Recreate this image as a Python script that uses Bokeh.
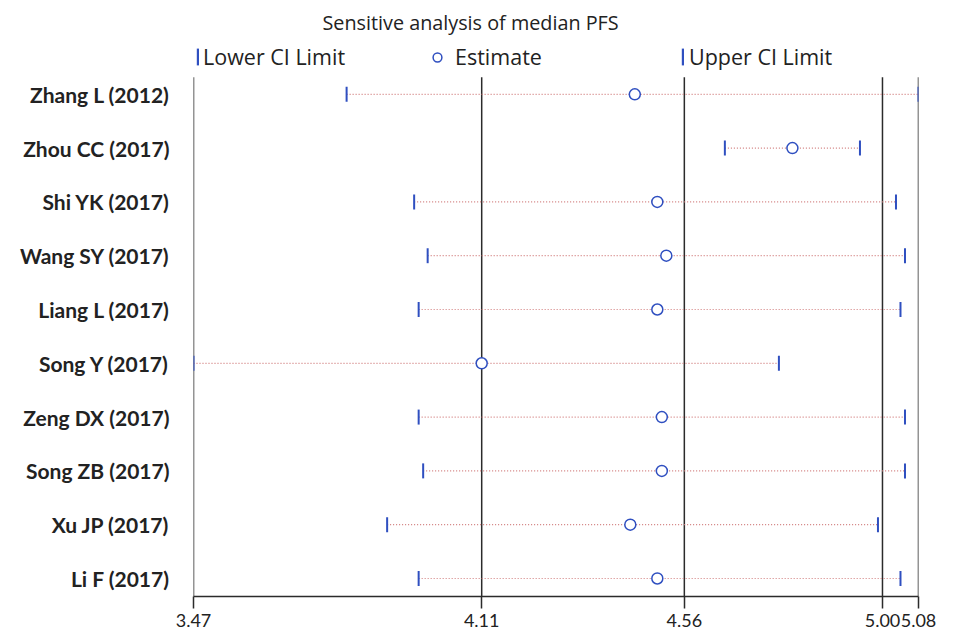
from bokeh.plotting import figure
from bokeh.models import (Range1d, FixedTicker, NumeralTickFormatter, Legend,
                          LegendItem, ColumnDataSource)
from bokeh.embed import file_html
from bokeh.resources import INLINE

studies = ["Zhang L (2012)", "Zhou CC (2017)", "Shi YK (2017)", "Wang SY (2017)",
           "Liang L (2017)", "Song Y (2017)", "Zeng DX (2017)", "Song ZB (2017)",
           "Xu JP (2017)", "Li F (2017)"]
lower = [3.81, 4.65, 3.96, 3.99, 3.97, 3.47, 3.97, 3.98, 3.90, 3.97]
estimate = [4.45, 4.80, 4.50, 4.52, 4.50, 4.11, 4.51, 4.51, 4.44, 4.50]
upper = [5.08, 4.95, 5.03, 5.05, 5.04, 4.77, 5.05, 5.05, 4.99, 5.04]
x_ticks = [3.47, 4.11, 4.56, 5.00, 5.08]

n = len(studies)
ypos = [n - 1 - i for i in range(n)]
src = ColumnDataSource(dict(study=studies, y=ypos, lower=lower, est=estimate, upper=upper))

BLUE = "#2f4fc0"
DARK = "#2b2b2b"
Y_BOTTOM, Y_LINE_TOP, Y_FRAME_TOP = -0.335, 9.316, 10.0

p = figure(width=945, height=636, output_backend="svg", toolbar_location=None,
           x_range=Range1d(x_ticks[0], x_ticks[-1]), y_range=Range1d(Y_BOTTOM, Y_FRAME_TOP),
           min_border_left=193, min_border_right=27, min_border_top=40, min_border_bottom=40,
           title="Sensitive analysis of median PFS")
p.outline_line_color = None
p.xgrid.visible = False
p.ygrid.visible = False
p.background_fill_color = "white"

p.title.align = "left"
p.title.offset = 129
p.title.standoff = 10
p.title.text_font = "Open Sans"
p.title.text_font_size = "19.8px"
p.title.text_font_style = "normal"
p.title.text_color = "#222222"

# reference lines at each tick value
p.segment(x0=x_ticks, y0=[Y_BOTTOM] * len(x_ticks), x1=x_ticks, y1=[Y_LINE_TOP] * len(x_ticks),
          line_color=DARK, line_width=1.5)

p.segment(x0="lower", y0="y", x1="upper", y1="y", source=src,
          line_color="#d07a7a", line_width=1.2, line_dash="1 2")
r_low = p.rect(x="lower", y="y", width=2, height=15, width_units="screen",
               height_units="screen", source=src, fill_color=BLUE, line_color=None)
r_up = p.rect(x="upper", y="y", width=2, height=15, width_units="screen",
              height_units="screen", source=src, fill_color=BLUE, line_color=None)
r_est = p.scatter(x="est", y="y", source=src, marker="circle", size=11,
                  fill_color="white", line_color=BLUE, line_width=1.5)

xa = p.xaxis[0]
xa.ticker = FixedTicker(ticks=x_ticks)
xa.formatter = NumeralTickFormatter(format="0.00")
xa.axis_line_color = DARK
xa.axis_line_width = 1.5
xa.major_tick_line_color = DARK
xa.major_tick_line_width = 1.5
xa.major_tick_out = 12
xa.major_tick_in = 0
xa.minor_tick_line_color = None
xa.major_label_standoff = 5
xa.major_label_text_font = "Lato"
xa.major_label_text_font_size = "18px"
xa.major_label_text_color = "#222222"

ya = p.yaxis[0]
ya.ticker = FixedTicker(ticks=ypos)
ya.major_label_overrides = {y: s for y, s in zip(ypos, studies)}
ya.axis_line_color = None
ya.major_tick_line_color = None
ya.minor_tick_line_color = None
ya.major_tick_out = 0
ya.major_tick_in = 0
ya.major_label_standoff = 24
ya.major_label_text_font = "Lato"
ya.major_label_text_font_style = "bold"
ya.major_label_text_font_size = "21px"
ya.major_label_text_color = "#222222"


def make_legend(label, renderer, loc, gw, gh, standoff):
    lg = Legend(items=[LegendItem(label=label, renderers=[renderer])], location=loc,
                glyph_width=gw, glyph_height=gh, label_height=gh, label_standoff=standoff,
                padding=0, margin=0, spacing=0, border_line_color=None,
                background_fill_alpha=0, label_text_font="Open Sans",
                label_text_font_size="21.5px", label_text_color="#222222")
    p.add_layout(lg, "center")


make_legend("Lower CI Limit", r_low, (3, 525), 3, 21, 4)
make_legend("Estimate", r_est, (233, 525), 22, 22, 7)
make_legend("Upper CI Limit", r_up, (488, 525), 3, 21, 5)

open("out.html", "w").write(file_html(p, INLINE))
